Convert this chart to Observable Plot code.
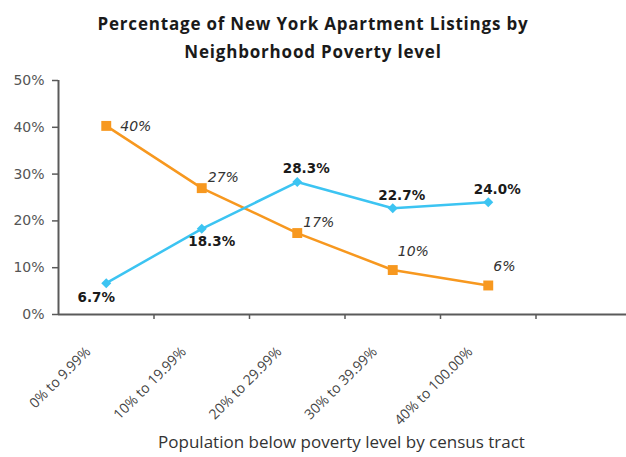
<!DOCTYPE html>
<html><head><meta charset="utf-8">
<script src="https://cdn.jsdelivr.net/npm/d3@7"></script>
<script src="https://cdn.jsdelivr.net/npm/@observablehq/plot@0.6"></script>
<style>
body{margin:0;background:#fff;}
#title{width:626px;height:64px;box-sizing:border-box;padding-top:10px;text-align:center;font-family:"Open Sans",sans-serif;font-weight:bold;font-size:17px;letter-spacing:0.8px;line-height:28px;color:#1a1a1a;}
#chart svg{display:block;}
</style></head><body>
<div id="title">Percentage of New York Apartment Listings by<br>Neighborhood Poverty level</div>
<div id="chart"></div>
<script>
const categories = ["0% to 9.99%", "10% to 19.99%", "20% to 29.99%", "30% to 39.99%", "40% to 100.00%"];
const blueValues = [6.7, 18.3, 28.3, 22.7, 24.0];
const blueLabels = ["6.7%", "18.3%", "28.3%", "22.7%", "24.0%"];
const orangeValues = [40.3, 27.0, 17.4, 9.5, 6.2];
const orangeLabels = ["40%", "27%", "17%", "10%", "6%"];
const yTicks = [0, 10, 20, 30, 40, 50];
const xTitle = "Population below poverty level by census tract";

const rows = categories.map((c, i) => ({i, c, blue: blueValues[i], bl: blueLabels[i], orange: orangeValues[i], ol: orangeLabels[i]}));
const nBands = categories.length + 1;
const X = d => d.i + 0.5;
const BLUE = "#3cc4f2", ORANGE = "#f7981f", AXIS = "#5a5a5a";
const LBL = "DejaVu Sans";

const plot = Plot.plot({
  width: 626, height: 393,
  marginTop: 16, marginBottom: 143, marginLeft: 58, marginRight: 0,
  x: {domain: [0, nBands], range: [58, 58 + 95.5 * nBands], axis: null},
  y: {domain: [0, 50], axis: null},
  marks: [
    Plot.axisY({ticks: yTicks, tickSize: 6, tickPadding: 8, tickFormat: d => d + "%", fontSize: 14, fontFamily: LBL, color: "#555", stroke: AXIS, strokeWidth: 1.5}),
    Plot.axisX({ticks: d3.range(1, nBands + 1), tickSize: 5, tickFormat: () => "", stroke: AXIS, strokeWidth: 1.5}),
    Plot.ruleX([0], {y1: 0, y2: 50, stroke: AXIS, strokeWidth: 2}),
    Plot.ruleY([0], {stroke: AXIS, strokeWidth: 2}),
    Plot.text(rows, {x: X, y: 0, text: "c", rotate: -45, textAnchor: "end", dx: -18, dy: 35, fontSize: 14, fontFamily: "Open Sans", fill: "#444"}),
    Plot.text([xTitle], {frameAnchor: "bottom", dx: -1, dy: 133, fontSize: 17, fontFamily: "Open Sans", fill: "#333"}),
    Plot.line(rows, {x: X, y: "orange", stroke: ORANGE, strokeWidth: 2.5}),
    Plot.line(rows, {x: X, y: "blue", stroke: BLUE, strokeWidth: 2.5}),
    Plot.dot(rows, {x: X, y: "orange", symbol: "square", r: 5.6, fill: ORANGE, stroke: null}),
    Plot.dot(rows, {x: X, y: "blue", symbol: "diamond2", r: 4.5, fill: BLUE, stroke: null}),
    // blue labels (bold)
    Plot.text(rows, {filter: d => d.i === 0, x: X, y: "blue", text: "bl", dx: -10, dy: 15, fontSize: 13.5, fontWeight: "bold", fontFamily: LBL, fill: "#1a1a1a"}),
    Plot.text(rows, {filter: d => d.i === 1, x: X, y: "blue", text: "bl", dx: 10, dy: 13, fontSize: 13.5, fontWeight: "bold", fontFamily: LBL, fill: "#1a1a1a"}),
    Plot.text(rows, {filter: d => d.i >= 2, x: X, y: "blue", text: "bl", dx: 9, dy: -13, fontSize: 13.5, fontWeight: "bold", fontFamily: LBL, fill: "#1a1a1a"}),
    // orange labels (italic)
    Plot.text(rows, {filter: d => d.i === 0, x: X, y: "orange", text: "ol", textAnchor: "start", dx: 14, dy: 1, fontSize: 14, fontStyle: "italic", fontFamily: LBL, fill: "#333"}),
    Plot.text(rows, {filter: d => d.i === 1 || d.i === 2, x: X, y: "orange", text: "ol", textAnchor: "start", dx: 6, dy: -11, fontSize: 14, fontStyle: "italic", fontFamily: LBL, fill: "#333"}),
    Plot.text(rows, {filter: d => d.i >= 3, x: X, y: "orange", text: "ol", textAnchor: "start", dx: 5, dy: -19, fontSize: 14, fontStyle: "italic", fontFamily: LBL, fill: "#333"})
  ]
});
document.getElementById("chart").appendChild(plot);
</script>
</body></html>
